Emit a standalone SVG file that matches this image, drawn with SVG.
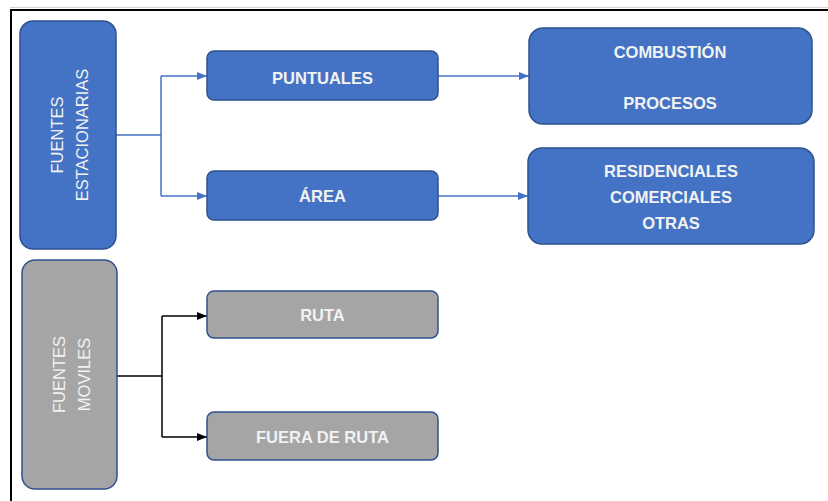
<svg xmlns="http://www.w3.org/2000/svg" width="828" height="501" viewBox="0 0 828 501">
<defs>
<style>
.blue{fill:#4472C4;stroke:#2F528F;stroke-width:1.5}
.gray{fill:#A5A5A5;stroke:#2F528F;stroke-width:1.5}
.t{font-family:"Liberation Sans",Arial,sans-serif;font-size:16.5px;font-weight:bold;fill:#F2F2F2;text-anchor:middle}
.v{font-family:"Liberation Sans",Arial,sans-serif;font-size:16.5px;fill:#F2F2F2;text-anchor:middle}
.cb{fill:none;stroke:#4472C4;stroke-width:1.5}
.ck{fill:none;stroke:#000;stroke-width:1.5}
</style>
<marker id="ab" markerWidth="10" markerHeight="8" refX="10" refY="4" orient="auto" markerUnits="userSpaceOnUse"><path d="M0,0 L10,4 L0,8 Z" fill="#4472C4"/></marker>
<marker id="ak" markerWidth="10" markerHeight="8" refX="10" refY="4" orient="auto" markerUnits="userSpaceOnUse"><path d="M0,0 L10,4 L0,8 Z" fill="#000"/></marker>
</defs>
<rect width="828" height="501" fill="#fff"/>
<line x1="10" y1="7.5" x2="828" y2="7.5" stroke="#d4d4d4" stroke-width="1"/>
<path d="M11,501 V10 H828" fill="none" stroke="#000" stroke-width="2"/>
<g id="connectors">
<path class="cb" d="M116,135 H161 M161,76 V196 M161,76 H207" marker-end="url(#ab)"/>
<path class="cb" d="M161,196 H207" marker-end="url(#ab)"/>
<path class="cb" d="M438,76 H529" marker-end="url(#ab)"/>
<path class="cb" d="M438,196 H528" marker-end="url(#ab)"/>
<path class="ck" d="M117,376 H162 M162,316 V437 M162,316 H207" marker-end="url(#ak)"/>
<path class="ck" d="M162,437 H207" marker-end="url(#ak)"/>
</g>
<g id="fuentes-estacionarias">
<rect class="blue" x="20" y="21" width="96" height="228" rx="13"/>
<text class="v" transform="translate(63,135) rotate(-90)">FUENTES</text>
<text class="v" transform="translate(88,135) rotate(-90)">ESTACIONARIAS</text>
</g>
<g id="puntuales">
<rect class="blue" x="207" y="51" width="231" height="49" rx="7"/>
<text class="t" x="322.5" y="84">PUNTUALES</text>
</g>
<g id="area">
<rect class="blue" x="207" y="171" width="231" height="49" rx="7"/>
<text class="t" x="322.5" y="202">ÁREA</text>
</g>
<g id="combustion">
<rect class="blue" x="529" y="28" width="283" height="96" rx="14"/>
<text class="t" x="670" y="58">COMBUSTIÓN</text>
<text class="t" x="670" y="109">PROCESOS</text>
</g>
<g id="residenciales">
<rect class="blue" x="528" y="148" width="286" height="96" rx="14"/>
<text class="t" x="671" y="177">RESIDENCIALES</text>
<text class="t" x="671" y="203">COMERCIALES</text>
<text class="t" x="671" y="229">OTRAS</text>
</g>
<g id="fuentes-moviles">
<rect class="gray" x="22" y="260" width="95" height="229" rx="13"/>
<text class="v" transform="translate(65,374.5) rotate(-90)">FUENTES</text>
<text class="v" transform="translate(90,374.5) rotate(-90)">MOVILES</text>
</g>
<g id="ruta">
<rect class="gray" x="207" y="291" width="231" height="47" rx="7"/>
<text class="t" x="322.5" y="321">RUTA</text>
</g>
<g id="fuera-de-ruta">
<rect class="gray" x="207" y="412" width="231" height="48" rx="7"/>
<text class="t" x="322.5" y="443">FUERA DE RUTA</text>
</g>
</svg>
